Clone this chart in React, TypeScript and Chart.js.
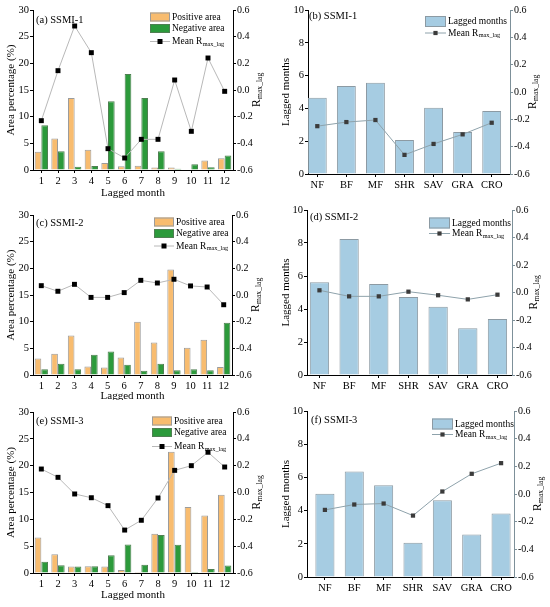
import { useEffect, useRef } from "react";
import { Chart, registerables } from "chart.js";

Chart.register(...registerables);

const SERIF = '"Liberation Serif", "Times New Roman", serif';

// ---- data ----
const MONTHS = ["1", "2", "3", "4", "5", "6", "7", "8", "9", "10", "11", "12"];
const LAND_COVER = ["NF", "BF", "MF", "SHR", "SAV", "GRA", "CRO"];

const SSMI1_POSITIVE = [3.4, 5.9, 13.5, 3.8, 1.3, 0.7, 0.8, 0.45, 0.45, 0.1, 1.8, 2.2];
const SSMI1_NEGATIVE = [8.4, 3.5, 0.6, 0.75, 12.9, 18.0, 13.5, 3.5, 0.25, 1.1, 0.5, 2.7];
const SSMI1_MEAN_R = [-0.23, 0.145, 0.48, 0.28, -0.44, -0.51, -0.37, -0.37, 0.075, -0.31, 0.24, -0.01];

const SSMI2_POSITIVE = [3.1, 4.0, 7.4, 1.6, 1.4, 3.3, 10.0, 6.1, 19.8, 5.1, 6.6, 1.5];
const SSMI2_NEGATIVE = [1.1, 2.1, 1.1, 3.8, 4.4, 1.9, 0.8, 2.1, 0.9, 1.1, 0.9, 9.8];
const SSMI2_MEAN_R = [0.07, 0.028, 0.08, -0.018, -0.018, 0.018, 0.11, 0.09, 0.118, 0.068, 0.06, -0.073];

const SSMI3_POSITIVE = [6.6, 3.5, 1.2, 1.25, 1.2, 0.55, 0.2, 7.3, 22.6, 12.3, 10.7, 14.6];
const SSMI3_NEGATIVE = [2.1, 1.45, 1.2, 1.25, 3.3, 5.3, 1.55, 7.1, 5.25, 0.2, 0.75, 1.4];
const SSMI3_MEAN_R = [0.175, 0.113, -0.011, -0.039, -0.098, -0.28, -0.207, -0.041, 0.165, 0.2, 0.3, 0.19];

const SSMI1_LAG = [4.65, 5.37, 5.57, 2.07, 4.04, 2.56, 3.84];
const SSMI1_LC_R = [-0.25, -0.22, -0.205, -0.46, -0.38, -0.31, -0.225];
const SSMI2_LAG = [5.62, 8.24, 5.52, 4.73, 4.14, 2.83, 3.39];
const SSMI2_LC_R = [0.016, -0.028, -0.028, 0.006, -0.02, -0.05, -0.016];
const SSMI3_LAG = [5.01, 6.36, 5.53, 2.07, 4.63, 2.56, 3.82];
const SSMI3_LC_R = [-0.115, -0.076, -0.069, -0.156, 0.018, 0.146, 0.223];

// ---- styles ----
const ORANGE = "#F8BC6F";
const ORANGE_EDGE = "#9c9c9c";
const GREEN = "#2C9A3B";
const GREEN_EDGE = "#4f7f52";
const BLUE = "#A6CCE2";
const BLUE_EDGE = "#8c9aa3";
const GREY_LINE = "#b8b8b8";
const TEAL_LINE = "#8ea2ab";
const DARK_MARK = "#3b3b3b";

const tickFont = { family: SERIF, size: 10.5 };
const rTickFont = { family: SERIF, size: 10 };
const titleFont = { family: SERIF, size: 11 };

const fmtR = (v: any) => {
  const n = Number(v);
  return Math.abs(n) < 1e-9 ? "0.0" : n.toFixed(1);
};

function drawSub(ctx: CanvasRenderingContext2D, x: number, y: number, main: string, sub: string, size: number) {
  ctx.font = `${size}px ${SERIF}`;
  ctx.fillText(main, x, y);
  const w = ctx.measureText(main).width;
  ctx.font = `${size * 0.66}px ${SERIF}`;
  ctx.fillText(sub, x + w + 0.3, y + size * 0.3);
}

function makeOverlay(p: any) {
  return {
    id: "overlay",
    afterDraw(chart: any) {
      const ctx: CanvasRenderingContext2D = chart.ctx;
      const area = chart.chartArea;
      ctx.save();
      ctx.fillStyle = "#000";
      ctx.textAlign = "left";
      ctx.textBaseline = "middle";

      // panel label
      ctx.font = `10.5px ${SERIF}`;
      ctx.fillText(p.label, p.labelX, p.labelY);

      // legend
      const lg = p.legend;
      lg.rows.forEach((row: any) => {
        if (row.kind === "box") {
          ctx.fillStyle = row.fill;
          ctx.fillRect(lg.symX, row.y - lg.symH / 2, lg.symW, lg.symH);
          ctx.strokeStyle = row.stroke;
          ctx.lineWidth = 1;
          ctx.strokeRect(lg.symX + 0.5, row.y - lg.symH / 2 + 0.5, lg.symW - 1, lg.symH - 1);
        } else {
          ctx.strokeStyle = row.stroke;
          ctx.lineWidth = 1;
          ctx.beginPath();
          ctx.moveTo(lg.symX, row.y);
          ctx.lineTo(lg.symX + lg.symW, row.y);
          ctx.stroke();
          ctx.fillStyle = row.marker;
          const m = row.size;
          ctx.fillRect(lg.symX + lg.symW / 2 - m / 2, row.y - m / 2, m, m);
        }
        ctx.fillStyle = "#000";
        if (row.sub) drawSub(ctx, lg.textX, row.y, row.text, row.sub, 9.5);
        else {
          ctx.font = `9.5px ${SERIF}`;
          ctx.fillText(row.text, lg.textX, row.y);
        }
      });

      // right axis title  R_max_lag (reads bottom to top)
      ctx.save();
      ctx.translate(p.rTitleX, (area.top + area.bottom) / 2);
      ctx.rotate(-Math.PI / 2);
      ctx.font = `11.5px ${SERIF}`;
      const wR = ctx.measureText("R").width;
      ctx.font = `${11.5 * 0.66}px ${SERIF}`;
      const wS = ctx.measureText("max_lag").width;
      const start = -(wR + wS) / 2;
      drawSub(ctx, start, 0, "R", "max_lag", 11.5);
      ctx.restore();

      ctx.restore();
    },
  };
}

function axisBase(color = "#000") {
  return {
    grid: { display: true, drawOnChartArea: false, drawTicks: true, tickLength: 3, color, offset: false },
    border: { display: true, color, width: 1 },
  };
}

function rightAxis(p: any, color = "#000") {
  return {
    ...axisBase(color),
    position: "right",
    min: -0.6,
    max: 0.6,
    ticks: { font: rTickFont, color: "#000", padding: 1, stepSize: 0.2, callback: fmtR },
    afterFit: (s: any) => {
      s.width = p.w - p.right;
    },
  };
}

function groupedConfig(p: any, pos: number[], neg: number[], r: number[]) {
  return {
    type: "bar",
    data: {
      labels: MONTHS,
      datasets: [
        {
          type: "line",
          label: "Mean R",
          data: r,
          yAxisID: "y1",
          borderColor: GREY_LINE,
          borderWidth: 1,
          pointStyle: "rect",
          pointRadius: 3.5,
          pointBackgroundColor: "#000",
          pointBorderColor: "#000",
          pointBorderWidth: 0,
          order: 0,
        },
        {
          type: "bar",
          label: "Positive area",
          data: pos,
          yAxisID: "y",
          backgroundColor: ORANGE,
          borderColor: ORANGE_EDGE,
          borderWidth: 1,
          categoryPercentage: 0.8,
          barPercentage: 1,
          order: 1,
        },
        {
          type: "bar",
          label: "Negative area",
          data: neg,
          yAxisID: "y",
          backgroundColor: GREEN,
          borderColor: GREEN_EDGE,
          borderWidth: 1,
          categoryPercentage: 0.8,
          barPercentage: 1,
          order: 1,
        },
      ],
    },
    options: {
      responsive: false,
      animation: false,
      layout: { padding: { top: p.top, left: 0, right: 0, bottom: 0 } },
      plugins: { legend: { display: false }, tooltip: { enabled: false } },
      scales: {
        x: {
          ...axisBase(),
          ticks: { font: tickFont, color: "#000", padding: 2, autoSkip: false, maxRotation: 0 },
          title: {
            display: true,
            text: "Lagged month",
            font: titleFont,
            color: "#000",
            padding: { top: 0, bottom: p.h - p.xTitleY - 6.6 },
          },
          afterFit: (s: any) => {
            s.height = p.h - p.bottom;
          },
        },
        y: {
          ...axisBase(),
          position: "left",
          min: 0,
          max: 30,
          ticks: { font: tickFont, color: "#000", padding: 1, stepSize: 5 },
          title: { display: true, text: "Area percentage (%)", font: titleFont, color: "#000", padding: { top: 5, bottom: 0 } },
          afterFit: (s: any) => {
            s.width = p.left;
          },
        },
        y1: rightAxis(p),
      },
    },
    plugins: [makeOverlay(p)],
  };
}

function landConfig(p: any, lag: number[], r: number[]) {
  const pts = lag.map((v, i) => ({ x: i + 1, y: v }));
  const line = r.map((v, i) => ({ x: i + 1, y: v }));
  return {
    type: "bar",
    data: {
      datasets: [
        {
          type: "line",
          label: "Mean R",
          data: line,
          yAxisID: "y1",
          borderColor: TEAL_LINE,
          borderWidth: 1,
          pointStyle: "rect",
          pointRadius: 3,
          pointBackgroundColor: DARK_MARK,
          pointBorderColor: DARK_MARK,
          pointBorderWidth: 0,
          order: 0,
        },
        {
          type: "bar",
          label: "Lagged months",
          data: pts,
          yAxisID: "y",
          backgroundColor: BLUE,
          borderColor: BLUE_EDGE,
          borderWidth: 1,
          categoryPercentage: 1,
          barPercentage: 0.65,
          order: 1,
        },
      ],
    },
    options: {
      responsive: false,
      animation: false,
      layout: { padding: { top: p.top, left: 0, right: 0, bottom: 0 } },
      plugins: { legend: { display: false }, tooltip: { enabled: false } },
      scales: {
        x: {
          ...axisBase(),
          type: "linear",
          offset: false,
          min: p.xMin,
          max: p.xMax,
          afterBuildTicks: (s: any) => {
            s.ticks = LAND_COVER.map((_, i) => ({ value: i + 1 }));
          },
          ticks: {
            font: tickFont,
            color: "#000",
            padding: 2,
            autoSkip: false,
            maxRotation: 0,
            callback: (v: any) => LAND_COVER[Math.round(Number(v)) - 1] ?? "",
          },
          afterFit: (s: any) => {
            s.height = p.h - p.bottom;
          },
        },
        y: {
          ...axisBase(),
          position: "left",
          min: 0,
          max: 10,
          ticks: { font: tickFont, color: "#000", padding: 1, stepSize: 2 },
          title: { display: true, text: "Lagged months", font: titleFont, color: "#000", padding: { top: 5, bottom: 0 } },
          afterFit: (s: any) => {
            s.width = p.left;
          },
        },
        y1: rightAxis(p, "#7d9099"),
      },
    },
    plugins: [makeOverlay(p)],
  };
}

const groupedRows = (y1: number, y2: number, y3: number) => [
  { kind: "box", text: "Positive area", fill: ORANGE, stroke: ORANGE_EDGE, y: y1 },
  { kind: "box", text: "Negative area", fill: GREEN, stroke: GREEN_EDGE, y: y2 },
  { kind: "line", text: "Mean R", sub: "max_lag", stroke: GREY_LINE, marker: "#000", size: 5, y: y3 },
];

const landRows = (y1: number, y2: number) => [
  { kind: "box", text: "Lagged months", fill: BLUE, stroke: BLUE_EDGE, y: y1 },
  { kind: "line", text: "Mean R", sub: "max_lag", stroke: TEAL_LINE, marker: DARK_MARK, size: 4.2, y: y2 },
];

// panel geometry (canvas-relative plot frame)
const PANEL_A = {
  px: 0, py: 0, w: 275, h: 200, left: 33, right: 233, top: 10, bottom: 170, xTitleY: 193,
  label: "(a) SSMI-1", labelX: 36, labelY: 20, rTitleX: 257,
  legend: { symX: 150, symW: 20, symH: 9, textX: 172, rows: groupedRows(17, 28.5, 41.5) },
};
const PANEL_B = {
  px: 275, py: 0, w: 275, h: 200, left: 33, right: 235, top: 10, bottom: 174, xMin: 0.68, xMax: 7.63,
  label: "(b) SSMI-1", labelX: 34, labelY: 16, rTitleX: 258,
  legend: { symX: 150, symW: 21, symH: 11, textX: 173, rows: landRows(21.5, 33) },
};
const PANEL_C = {
  px: 0, py: 200, w: 275, h: 200, left: 33, right: 232, top: 15, bottom: 175, xTitleY: 196,
  label: "(c) SSMI-2", labelX: 36, labelY: 23, rTitleX: 256,
  legend: { symX: 154, symW: 20, symH: 9, textX: 176, rows: groupedRows(22, 33.5, 46) },
};
const PANEL_D = {
  px: 275, py: 200, w: 275, h: 200, left: 32, right: 237, top: 10, bottom: 175, xMin: 0.58, xMax: 7.49,
  label: "(d) SSMI-2", labelX: 35, labelY: 17, rTitleX: 259,
  legend: { symX: 154, symW: 21, symH: 11, textX: 177, rows: landRows(23, 33.5) },
};
const PANEL_E = {
  px: 0, py: 400, w: 275, h: 207, left: 33, right: 233, top: 12, bottom: 173, xTitleY: 195,
  label: "(e) SSMI-3", labelX: 36, labelY: 21, rTitleX: 257,
  legend: { symX: 152, symW: 20, symH: 9, textX: 174, rows: groupedRows(21, 32.5, 46.5) },
};
const PANEL_F = {
  px: 275, py: 400, w: 275, h: 207, left: 32, right: 239, top: 11, bottom: 177, xMin: 0.39, xMax: 7.44,
  label: "(f) SSMI-3", labelX: 36, labelY: 20, rTitleX: 263,
  legend: { symX: 157, symW: 21, symH: 11, textX: 180, rows: landRows(24, 34.5) },
};

function ChartPanel({ p, build }: { p: any; build: () => any }) {
  const chartRef = useRef<HTMLCanvasElement>(null);

  useEffect(() => {
    if (!chartRef.current) return;
    const chart = new Chart(chartRef.current, build());
    return () => {
      chart.destroy();
    };
  }, []);

  return (
    <div style={{ position: "absolute", left: p.px, top: p.py, width: p.w, height: p.h }}>
      <canvas ref={chartRef} width={p.w} height={p.h} />
    </div>
  );
}

export default function App() {
  return (
    <div style={{ position: "absolute", left: 0, top: 0, width: 550, height: 607, background: "#fff" }}>
      <ChartPanel p={PANEL_A} build={() => groupedConfig(PANEL_A, SSMI1_POSITIVE, SSMI1_NEGATIVE, SSMI1_MEAN_R)} />
      <ChartPanel p={PANEL_B} build={() => landConfig(PANEL_B, SSMI1_LAG, SSMI1_LC_R)} />
      <ChartPanel p={PANEL_C} build={() => groupedConfig(PANEL_C, SSMI2_POSITIVE, SSMI2_NEGATIVE, SSMI2_MEAN_R)} />
      <ChartPanel p={PANEL_D} build={() => landConfig(PANEL_D, SSMI2_LAG, SSMI2_LC_R)} />
      <ChartPanel p={PANEL_E} build={() => groupedConfig(PANEL_E, SSMI3_POSITIVE, SSMI3_NEGATIVE, SSMI3_MEAN_R)} />
      <ChartPanel p={PANEL_F} build={() => landConfig(PANEL_F, SSMI3_LAG, SSMI3_LC_R)} />
    </div>
  );
}
